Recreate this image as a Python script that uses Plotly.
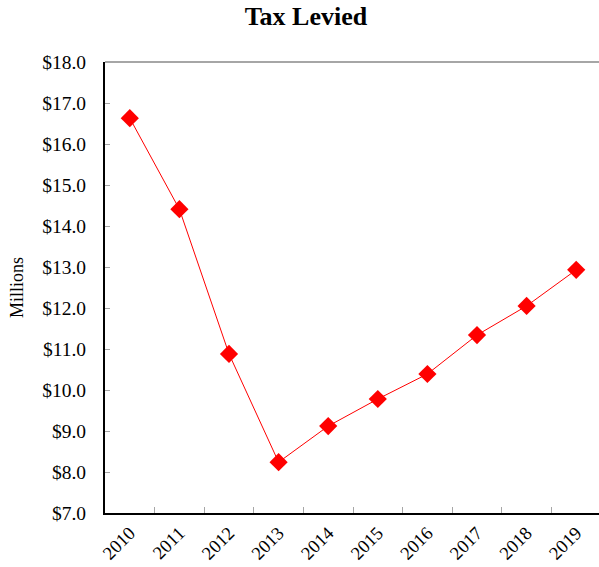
import plotly.graph_objects as go

years = ['2010', '2011', '2012', '2013', '2014', '2015', '2016', '2017', '2018', '2019']
tax_levied = [16.63, 14.41, 10.88, 8.24, 9.12, 9.78, 10.39, 11.34, 12.05, 12.93]

serif = 'Liberation Serif, Times New Roman, serif'

fig = go.Figure()
fig.add_trace(go.Scatter(x=years, y=tax_levied, mode='lines+markers',
                         line=dict(color='#ff0000', width=1),
                         marker=dict(symbol='diamond', size=14, color='#ff0000'),
                         showlegend=False))

# gray top edge of the plot area
fig.add_shape(type='line', xref='paper', yref='paper', x0=0, x1=1, y0=1, y1=1,
              line=dict(color='#a6a6a6', width=2), layer='below')

# figure is 2px wider than the window: the chart's right edge is cut off as in the source
fig.update_layout(
    width=601, height=567,
    margin=dict(l=105, r=0, t=62, b=54),
    paper_bgcolor='white', plot_bgcolor='white',
    font=dict(family=serif, color='black'),
    title=dict(text='<b>Tax Levied</b>', x=0.509, xanchor='center', y=0.972, yanchor='middle',
               font=dict(family=serif, size=26, color='black')),
)
fig.update_xaxes(type='category', range=[-0.5, 9.5], tickson='boundaries',
                 ticks='inside', ticklen=6, tickcolor='#a6a6a6', tickwidth=1,
                 showline=True, linecolor='black', linewidth=2, showgrid=False, zeroline=False,
                 tickangle=-45, tickfont=dict(size=18.5, family=serif), automargin=False)
fig.update_yaxes(range=[7, 18], dtick=1, tick0=7, tickprefix='$', tickformat='.1f',
                 ticks='inside', ticklen=5, tickcolor='#a6a6a6', tickwidth=1,
                 showline=True, linecolor='black', linewidth=2, showgrid=False, zeroline=False,
                 tickfont=dict(size=19.5, family=serif), ticklabelstandoff=13,
                 title=dict(text='Millions', font=dict(size=18, family=serif), standoff=14),
                 automargin=False)

# drop the default page margin and scrollbars so the figure fills the window
fig.write_html("out.html", config={'displayModeBar': False},
               post_script="document.body.style.margin='0px';"
                           "document.documentElement.style.overflow='hidden';")
